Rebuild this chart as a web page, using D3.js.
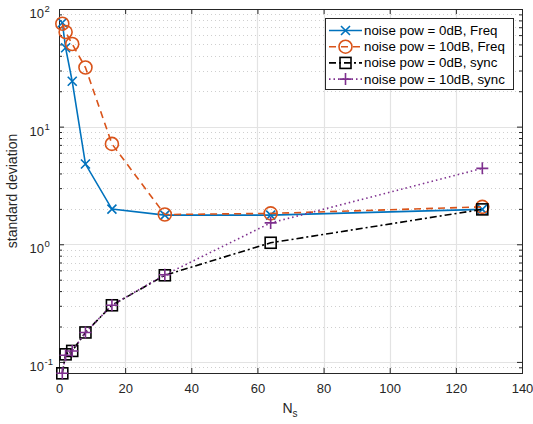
<!DOCTYPE html>
<html>
<head>
<meta charset="utf-8">
<script src="https://cdn.jsdelivr.net/npm/d3@7"></script>
<style>
  body { margin: 0; background: #fff; }
  svg { font-family: "Liberation Sans", Arial, sans-serif; }
</style>
</head>
<body>
<svg id="chart" width="533" height="424"></svg>
<script>
// data
var ns = [1, 2, 4, 8, 16, 32, 64, 128];
var freq0dB  = [76.4, 46.8, 24.3, 4.81, 1.99, 1.77, 1.77, 1.98];
var freq10dB = [75, 63.7, 50.4, 31.8, 7.13, 1.79, 1.83, 2.08];
var sync0dB  = [0.08, 0.116, 0.124, 0.178, 0.303, 0.545, 1.03, 1.98];
var sync10dB = [0.08, 0.114, 0.124, 0.178, 0.303, 0.55, 1.52, 4.42];

var xTicks = [0, 20, 40, 60, 80, 100, 120, 140];
var yTicks = [0.1, 1, 10, 100];
var yExp = ['-1', '0', '1', '2'];

var series = [
  {name: 'noise pow = 0dB, Freq',  values: freq0dB,  color: '#0072BD', dash: null,      marker: 'x'},
  {name: 'noise pow = 10dB, Freq', values: freq10dB, color: '#D95319', dash: '7,5',     marker: 'o'},
  {name: 'noise pow = 0dB, sync',  values: sync0dB,  color: '#000000', dash: '7,3,2,3', marker: 's'},
  {name: 'noise pow = 10dB, sync', values: sync10dB, color: '#7E2F8E', dash: '1.5,3',   marker: '+'}
];

var svg = d3.select('#chart');
var m = {left: 59, right: 522, top: 9, bottom: 373};

var x = d3.scaleLinear().domain([0, 140]).range([m.left, m.right]);
var y = d3.scaleLog().domain([0.0805, 100]).range([m.bottom, m.top]);

// grid
var grid = svg.append('g');
var minor = [];
[0.01, 0.1, 1, 10].forEach(function (d) {
  for (var k = 2; k <= 9; k++) minor.push(d * k);
});
minor = minor.filter(function (v) { return v >= 0.0805 && v <= 100; });

grid.selectAll('.ymin').data(minor).enter().append('line')
    .attr('x1', m.left).attr('x2', m.right)
    .attr('y1', function (d) { return Math.round(y(d)) + 0.5; })
    .attr('y2', function (d) { return Math.round(y(d)) + 0.5; })
    .attr('stroke', '#cfcfcf').attr('stroke-width', 1)
    .attr('stroke-dasharray', '1,3');

grid.selectAll('.ymaj').data(yTicks).enter().append('line')
    .attr('x1', m.left).attr('x2', m.right)
    .attr('y1', function (d) { return Math.round(y(d)) + 0.5; })
    .attr('y2', function (d) { return Math.round(y(d)) + 0.5; })
    .attr('stroke', '#e3e3e3').attr('stroke-width', 1.2);

grid.selectAll('.xmaj').data(xTicks.slice(1, -1)).enter().append('line')
    .attr('y1', m.top).attr('y2', m.bottom)
    .attr('x1', function (d) { return Math.round(x(d)) + 0.5; })
    .attr('x2', function (d) { return Math.round(x(d)) + 0.5; })
    .attr('stroke', '#e3e3e3').attr('stroke-width', 1.2);

// axes
var axisColor = '#262626';
var xAxis = svg.append('g').attr('transform', 'translate(0,' + m.bottom + ')')
    .call(d3.axisBottom(x).tickValues(xTicks).tickSize(-5).tickPadding(11).tickFormat(d3.format('d')));
var xTop = svg.append('g').attr('transform', 'translate(0,' + m.top + ')')
    .call(d3.axisTop(x).tickValues(xTicks).tickSize(-5).tickFormat(''));
var yAxis = svg.append('g').attr('transform', 'translate(' + m.left + ',0)')
    .call(d3.axisLeft(y).tickValues(yTicks).tickSize(-5).tickFormat(''));
var yRight = svg.append('g').attr('transform', 'translate(' + m.right + ',0)')
    .call(d3.axisRight(y).tickValues(yTicks).tickSize(-5).tickFormat(''));
var yMinL = svg.append('g').attr('transform', 'translate(' + m.left + ',0)')
    .call(d3.axisLeft(y).tickValues(minor).tickSize(-3).tickFormat(''));
var yMinR = svg.append('g').attr('transform', 'translate(' + m.right + ',0)')
    .call(d3.axisRight(y).tickValues(minor).tickSize(-3).tickFormat(''));

[xAxis, xTop, yAxis, yRight, yMinL, yMinR].forEach(function (g) {
  g.selectAll('path, line').attr('stroke', axisColor);
  g.select('.domain').attr('stroke-width', 1);
});
xAxis.selectAll('text').attr('fill', axisColor).style('font-size', '13px');

// y tick labels with superscripts
yTicks.forEach(function (d, i) {
  svg.append('text')
      .attr('x', 44).attr('y', y(d) + 9)
      .attr('text-anchor', 'end')
      .attr('fill', axisColor).style('font-size', '13px')
      .text('10');
  svg.append('text')
      .attr('x', 44.5).attr('y', y(d) + 3)
      .attr('fill', axisColor).style('font-size', '9.5px')
      .text(yExp[i]);
});

// axis labels
var xl = svg.append('text')
    .attr('x', 290).attr('y', 413)
    .attr('text-anchor', 'middle')
    .attr('fill', axisColor).style('font-size', '14px');
xl.append('tspan').text('N');
xl.append('tspan').attr('dy', 4).style('font-size', '10px').text('s');

svg.append('text')
    .attr('transform', 'translate(17,' + ((m.top + m.bottom) / 2) + ') rotate(-90)')
    .attr('text-anchor', 'middle')
    .attr('fill', axisColor).style('font-size', '14px')
    .text('standard deviation');

// markers
function drawMarker(g, type, cx, cy, color) {
  if (type === 'x') {
    var r = 4.5;
    g.append('path').attr('d', 'M' + (cx - r) + ',' + (cy - r) + 'L' + (cx + r) + ',' + (cy + r) +
        'M' + (cx - r) + ',' + (cy + r) + 'L' + (cx + r) + ',' + (cy - r))
      .attr('stroke', color).attr('stroke-width', 1.6).attr('fill', 'none');
  } else if (type === 'o') {
    g.append('circle').attr('cx', cx).attr('cy', cy).attr('r', 6.5)
      .attr('stroke', color).attr('stroke-width', 1.6).attr('fill', 'none');
  } else if (type === 's') {
    g.append('rect').attr('x', cx - 5.5).attr('y', cy - 5.5).attr('width', 11).attr('height', 11)
      .attr('stroke', color).attr('stroke-width', 1.6).attr('fill', 'none');
  } else if (type === '+') {
    var p = 6;
    g.append('path').attr('d', 'M' + (cx - p) + ',' + cy + 'L' + (cx + p) + ',' + cy +
        'M' + cx + ',' + (cy - p) + 'L' + cx + ',' + (cy + p))
      .attr('stroke', color).attr('stroke-width', 1.6).attr('fill', 'none');
  }
}

var line = d3.line()
    .x(function (d) { return x(d[0]); })
    .y(function (d) { return y(d[1]); });

var plot = svg.append('g');
series.forEach(function (s) {
  var pts = ns.map(function (n, i) { return [n, s.values[i]]; });
  var g = plot.append('g');
  g.append('path').datum(pts)
      .attr('d', line)
      .attr('fill', 'none')
      .attr('stroke', s.color)
      .attr('stroke-width', 1.6)
      .attr('stroke-dasharray', s.dash);
  pts.forEach(function (p) { drawMarker(g, s.marker, x(p[0]), y(p[1]), s.color); });
});

// legend
var lg = svg.append('g');
lg.append('rect')
    .attr('x', 325.5).attr('y', 18.5).attr('width', 188).attr('height', 71)
    .attr('fill', '#fff').attr('stroke', axisColor).attr('stroke-width', 1);
series.forEach(function (s, i) {
  var ly = 30.5 + i * 16.2;
  lg.append('line')
      .attr('x1', 329).attr('x2', 362).attr('y1', ly).attr('y2', ly)
      .attr('stroke', s.color).attr('stroke-width', 1.6)
      .attr('stroke-dasharray', s.dash);
  drawMarker(lg, s.marker, 345.5, ly, s.color);
  lg.append('text')
      .attr('x', 364).attr('y', ly + 4.5)
      .attr('fill', '#000').style('font-size', '13.3px')
      .text(s.name);
});
</script>
</body>
</html>
